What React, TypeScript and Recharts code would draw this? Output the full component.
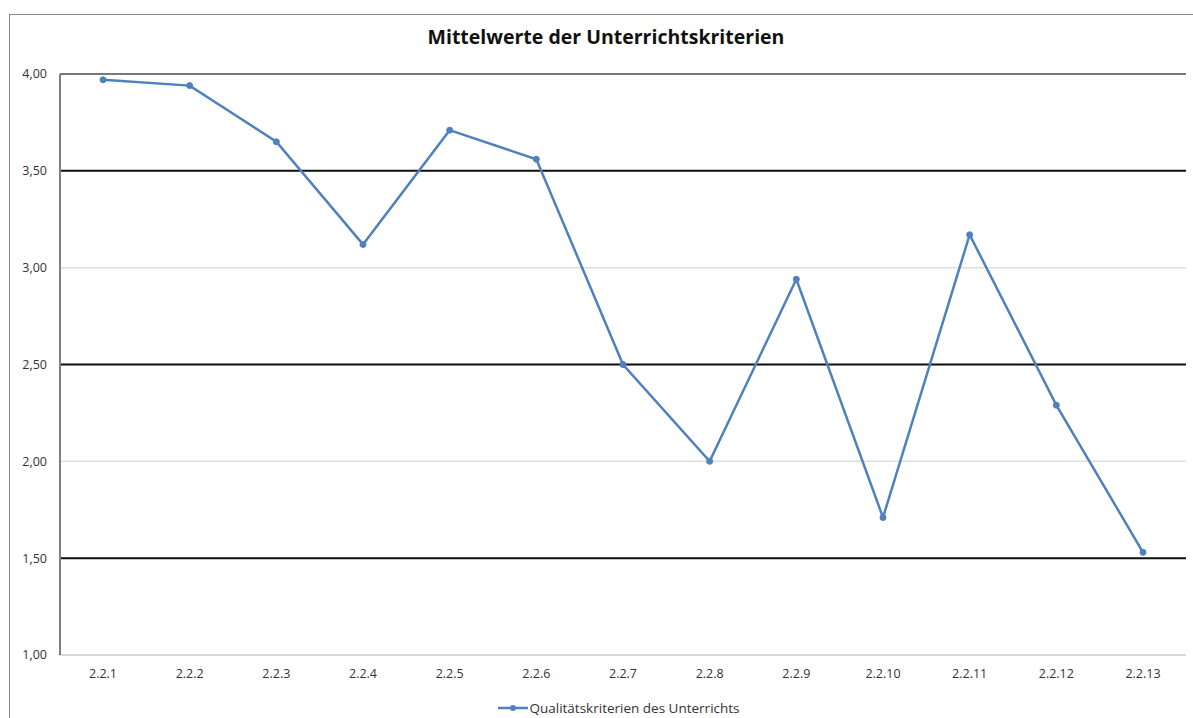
import { LineChart, Line, XAxis, YAxis, CartesianGrid, ReferenceLine, Legend } from 'recharts'

const categories = ['2.2.1', '2.2.2', '2.2.3', '2.2.4', '2.2.5', '2.2.6', '2.2.7', '2.2.8', '2.2.9', '2.2.10', '2.2.11', '2.2.12', '2.2.13']
const values = [3.97, 3.94, 3.65, 3.12, 3.71, 3.56, 2.5, 2.0, 2.94, 1.71, 3.17, 2.29, 1.53]
const yTicks = [1, 1.5, 2, 2.5, 3, 3.5, 4]
const thickLines = [1.5, 2.5, 3.5]

const seriesName = 'Qualitätskriterien des Unterrichts'
const font = "'Open Sans', 'Noto Sans', sans-serif"
const blue = '#4f81bd'

// Legende wie im Original: Linie mit Punkt in der Mitte
function LegendBox() {
  return (
    <div style={{ display: 'flex', justifyContent: 'center', alignItems: 'center', paddingLeft: 42, fontSize: 13.5, fontFamily: font, color: '#333' }}>
      <svg width={30} height={10} style={{ marginRight: 1 }}>
        <line x1={0} y1={5} x2={30} y2={5} stroke={blue} strokeWidth={2.5} />
        <circle cx={15} cy={5} r={3} fill={blue} />
      </svg>
      <span>{seriesName}</span>
    </div>
  )
}

export default function App() {
  const rows = categories.map((c, i) => ({ cat: c, v: values[i] }))
  return (
    <div style={{ position: 'absolute', left: 0, top: 0, width: 1193, height: 718, overflow: 'hidden', background: '#fff', fontFamily: font }}>
      <div style={{ position: 'absolute', left: 9, top: 14, width: 1300, height: 800, border: '1px solid #8c8c8c' }} />
      <div style={{ position: 'absolute', left: 0, top: 23, width: 1212, textAlign: 'center', fontSize: 19.5, fontWeight: 700, color: '#111' }}>
        Mittelwerte der Unterrichtskriterien
      </div>
      <div style={{ position: 'absolute', left: 0, top: 0 }}>
        <LineChart width={1193} height={718} data={rows} margin={{ top: 74, right: 7, left: 10, bottom: 15 }}>
          <CartesianGrid vertical={false} stroke="#dedede" strokeWidth={1.5} />
          <XAxis
            dataKey="cat"
            padding={{ left: 43, right: 43 }}
            tickLine={false}
            axisLine={{ stroke: '#d9d9d9', strokeWidth: 2 }}
            tick={{ fontSize: 12.5, fill: '#333', fontFamily: font }}
            tickMargin={8}
            interval={0}
          />
          <XAxis xAxisId="top" orientation="top" dataKey="cat" height={0} tick={false} tickLine={false} axisLine={{ stroke: '#555', strokeWidth: 1.5 }} />
          <YAxis
            domain={[1, 4]}
            ticks={yTicks}
            width={50}
            tickLine={false}
            axisLine={{ stroke: '#7f7f7f', strokeWidth: 2 }}
            tick={{ fontSize: 12.5, fill: '#333', fontFamily: font }}
            tickMargin={7}
            tickFormatter={(v: number) => v.toFixed(2).replace('.', ',')}
          />
          <YAxis yAxisId="right" orientation="right" domain={[1, 4]} width={0} tick={false} tickLine={false} axisLine={{ stroke: '#222', strokeWidth: 1.5 }} />
          <ReferenceLine y={4} stroke="#555" strokeWidth={1.5} />
          {thickLines.map((t) => (
            <ReferenceLine key={t} y={t} stroke="#111" strokeWidth={2} />
          ))}
          <Legend verticalAlign="bottom" wrapperStyle={{ top: 699 }} content={() => <LegendBox />} />
          <Line
            name={seriesName}
            dataKey="v"
            stroke={blue}
            strokeWidth={2.5}
            dot={{ r: 3, fill: blue, stroke: blue, strokeWidth: 1 }}
            isAnimationActive={false}
          />
        </LineChart>
      </div>
    </div>
  )
}
